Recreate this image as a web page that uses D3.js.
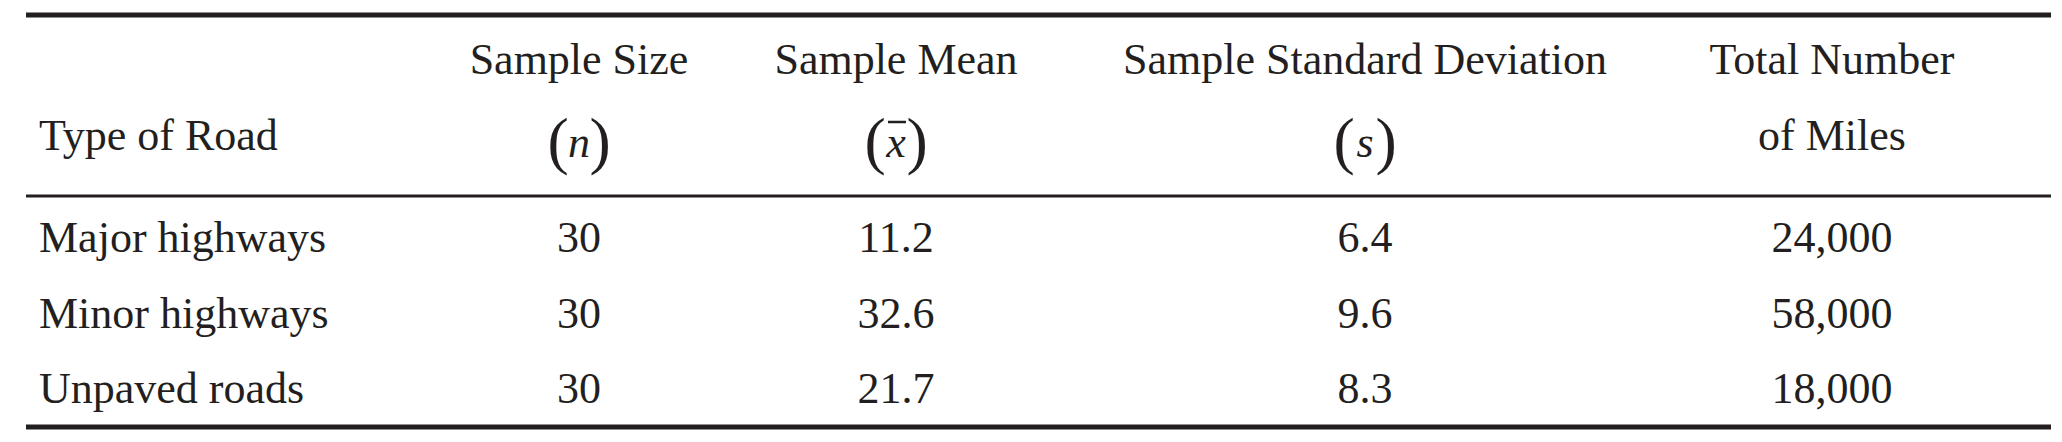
<!DOCTYPE html><html><head><meta charset="utf-8">
<script src="https://cdn.jsdelivr.net/npm/d3@7"></script>
<style>body{margin:0;background:#fff}</style></head><body>
<script>
const roadTypes = ["Major highways","Minor highways","Unpaved roads"];
const sampleSize = ["30","30","30"];
const sampleMean = ["11.2","32.6","21.7"];
const sampleSD = ["6.4","9.6","8.3"];
const totalMiles = ["24,000","58,000","18,000"];
const colCenters = [579, 896, 1365, 1832];

const W=2062,H=442;
const svg=d3.select("body").append("svg").attr("width",W).attr("height",H);
const font="'Liberation Serif','Times New Roman',serif";
const fs=44;
const ink="#231f20";
const x=d3.scaleLinear().domain([0,W]).range([0,W]);
const y=d3.scaleBand().domain(roadTypes).range([200,426]);

function rule(yy,t){svg.append("rect").attr("x",26).attr("width",2051-26).attr("y",yy-t/2).attr("height",t).attr("fill",ink);}
rule(15,5); rule(196,3); rule(427,5);

function txt(xx,yy,s,anchor,style){const t=svg.append("text").attr("x",xx).attr("y",yy).attr("text-anchor",anchor||"middle")
 .attr("dominant-baseline","central").attr("font-family",font).attr("font-size",fs).attr("fill",ink);
 if(style)t.attr("font-style",style); t.text(s); return t;}

txt(39,135,"Type of Road","start");
txt(colCenters[0],59,"Sample Size");
txt(colCenters[1],59,"Sample Mean");
txt(colCenters[2],59,"Sample Standard Deviation");
txt(colCenters[3],59,"Total Number");
txt(colCenters[3],135,"of Miles");
function paren(cx,sym,bar){
 const g=svg.append("g");
 const big=fs*1.45;
 g.append("text").attr("x",cx-21).attr("y",140).attr("text-anchor","middle").attr("dominant-baseline","central")
  .attr("font-family",font).attr("font-size",big).attr("fill",ink).text("(");
 g.append("text").attr("x",cx+21).attr("y",140).attr("text-anchor","middle").attr("dominant-baseline","central")
  .attr("font-family",font).attr("font-size",big).attr("fill",ink).text(")");
 g.append("text").attr("x",cx).attr("y",142).attr("text-anchor","middle").attr("dominant-baseline","central")
  .attr("font-family",font).attr("font-size",fs).attr("font-style","italic").attr("fill",ink).text(sym);
 if(bar) g.append("line").attr("x1",cx-8).attr("x2",cx+10).attr("y1",122).attr("y2",122).attr("stroke",ink).attr("stroke-width",2.5);
}
paren(colCenters[0],"n");
paren(colCenters[1],"x",true);
paren(colCenters[2],"s");

roadTypes.forEach((r,i)=>{
 const yy=y(r)+y.bandwidth()/2;
 txt(39,yy,r,"start");
 [sampleSize,sampleMean,sampleSD,totalMiles].forEach((arr,j)=>txt(x(colCenters[j]),yy,arr[i]));
});
</script></body></html>
